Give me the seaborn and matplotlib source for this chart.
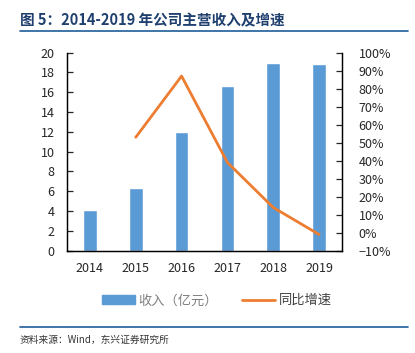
import numpy as np
import pandas as pd
import matplotlib
matplotlib.use("Agg")
import matplotlib.pyplot as plt
import seaborn as sns
from matplotlib.patches import Patch
from matplotlib.lines import Line2D
from matplotlib.ticker import MultipleLocator, PercentFormatter

# data
years = ["2014", "2015", "2016", "2017", "2018", "2019"]
revenue = [4.14, 6.36, 11.96, 16.6, 18.93, 18.83]  # 亿元
growth = [np.nan, 0.53, 0.87, 0.39, 0.14, -0.01]  # 同比增速

sns.set_style("white")
plt.rcParams["font.family"] = ["Noto Sans CJK SC", "DejaVu Sans"]

df = pd.DataFrame({"year": years, "revenue": revenue, "growth": growth})
df["pos"] = np.arange(len(df))

fig = plt.figure(figsize=(4.15, 3.53), dpi=100)
ax = fig.add_axes([0.1614, 0.2898, 0.6627, 0.561])

bar_color = "#5B9BD5"
line_color = "#ED7D31"

sns.barplot(data=df, x="year", y="revenue", color=bar_color, width=0.3,
            saturation=1, ax=ax)
ax.set_xlim(-0.5, 5.5)
ax.set_ylim(0, 20)
ax.yaxis.set_major_locator(MultipleLocator(2))
ax.set_xlabel("")
ax.set_ylabel("")

ax2 = ax.twinx()
sns.lineplot(data=df, x="pos", y="growth", color=line_color, linewidth=2, ax=ax2)
ax2.set_ylim(-0.1, 1.0)
ax2.yaxis.set_major_locator(MultipleLocator(0.1))
ax2.yaxis.set_major_formatter(PercentFormatter(1.0, decimals=0))
ax2.set_ylabel("")
ax2.set_xlim(-0.5, 5.5)

for a in (ax, ax2):
    for s in a.spines.values():
        s.set_color("black")
        s.set_linewidth(0.9)
    a.spines["top"].set_visible(False)
ax.tick_params(axis="y", direction="in", length=4, width=0.9, labelsize=9,
               pad=9, left=True)
ax.tick_params(axis="x", length=0, labelsize=9, pad=8)
ax2.tick_params(axis="y", direction="in", length=4, width=0.9, labelsize=9,
                pad=12, right=True)

# title and rules
fig.text(0.048, 0.943, "图 5：2014-2019 年公司主营收入及增速", fontsize=10.5,
         fontweight="bold", color="#1F3F6E", va="center")
fig.add_artist(Line2D([0.048, 0.983], [0.913, 0.913], color="#1F5C99", lw=1.2))
fig.add_artist(Line2D([0.048, 0.983], [0.074, 0.074], color="#1F5C99", lw=1.2))
fig.text(0.048, 0.037, "资料来源：Wind，东兴证券研究所", fontsize=7,
         style="italic", color="#333333", va="center")

handles = [Patch(facecolor=bar_color, edgecolor=bar_color),
           Line2D([], [], color=line_color, lw=2)]
leg = fig.legend(handles, ["收入（亿元）", "同比增速"], loc="center",
                 bbox_to_anchor=(0.522, 0.148), ncol=2, frameon=False,
                 fontsize=9.5, handlelength=2.5, handleheight=0.6,
                 columnspacing=1.8, handletextpad=0.3)
leg.get_texts()[0].set_color("#7F7F7F")
leg.get_texts()[1].set_color("#404040")

fig.savefig("out.png", dpi=100)
